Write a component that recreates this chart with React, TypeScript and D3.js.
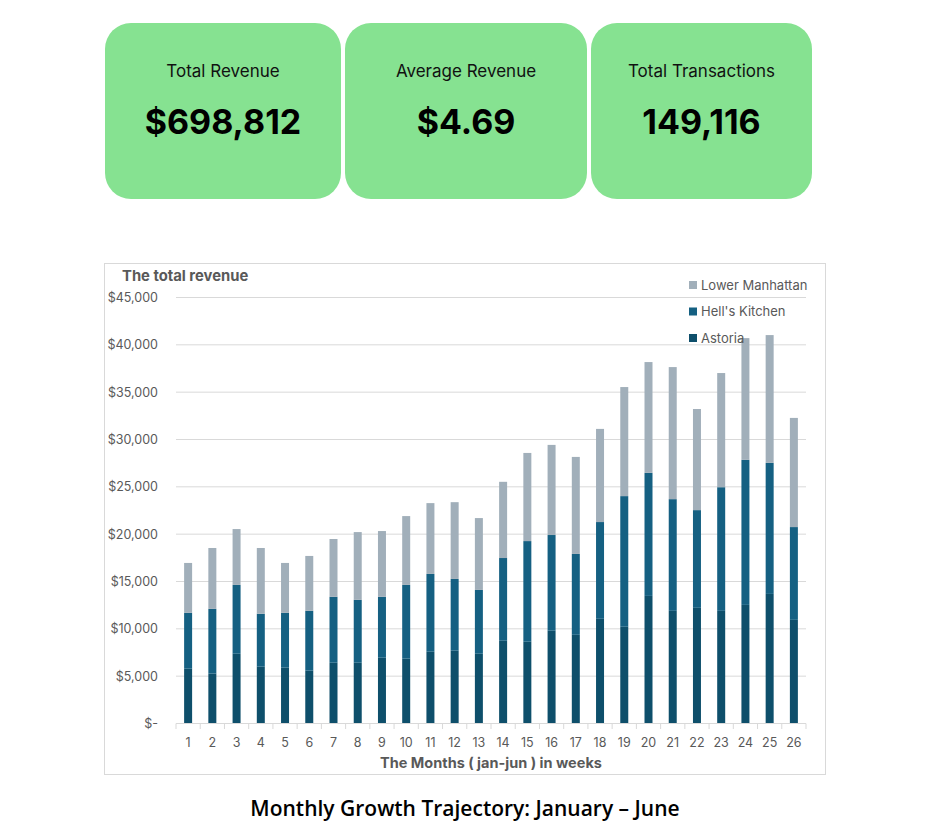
import React, { useRef, useEffect } from 'react'
import * as d3 from 'd3'

// weekly revenue by store, jan-jun
const weeks = d3.range(1, 27).map(String)
const astoria = [5790, 5270, 7370, 6000, 5900, 5580, 6420, 6420, 6950, 6850, 7580, 7690, 7370,
  8740, 8640, 9800, 9370, 11060, 10220, 13480, 11900, 12220, 11900, 12530, 13690, 10950]
const hellsKitchen = [5900, 6840, 7270, 5590, 5790, 6320, 6960, 6640, 6430, 7790, 8220, 7580, 6740,
  8740, 10630, 10110, 8540, 10220, 13800, 13000, 11800, 10320, 13060, 15320, 13840, 9800]
const lowerManhattan = [5270, 6430, 5900, 6950, 5270, 5800, 6110, 7160, 6950, 7270, 7480, 8110, 7590,
  8050, 9310, 9520, 10250, 9840, 11520, 11700, 13950, 10680, 12060, 12860, 13500, 11530]
const seriesNames = ['Astoria', "Hell's Kitchen", 'Lower Manhattan']
const seriesColors = ['#0e4f6b', '#156082', '#a1afba']
const yTicks = [0, 5000, 10000, 15000, 20000, 25000, 30000, 35000, 40000, 45000]

const kpis = [
  { label: 'Total Revenue', value: '$698,812', x0: 105, x1: 341 },
  { label: 'Average Revenue', value: '$4.69', x0: 345, x1: 587 },
  { label: 'Total Transactions', value: '149,116', x0: 591, x1: 812 },
]

const W = 937
const H = 834
const font = 'Inter, "Noto Sans", sans-serif'

export default function App() {
  const svgRef = useRef<SVGSVGElement>(null)

  useEffect(() => {
    const svg = d3.select(svgRef.current)
    svg.selectAll('*').remove()

    // KPI cards
    const cards = svg.append('g')
    kpis.forEach(k => {
      const g = cards.append('g')
      const cx = (k.x0 + k.x1) / 2
      g.append('rect')
        .attr('x', k.x0).attr('y', 23)
        .attr('width', k.x1 - k.x0).attr('height', 176)
        .attr('rx', 26)
        .attr('fill', '#86e291')
      g.append('text')
        .attr('x', cx).attr('y', 77)
        .attr('text-anchor', 'middle')
        .attr('font-family', font)
        .attr('font-size', 17)
        .attr('fill', '#111')
        .text(k.label)
      g.append('text')
        .attr('x', cx).attr('y', 134)
        .attr('text-anchor', 'middle')
        .attr('font-family', font)
        .attr('font-weight', 700)
        .attr('font-size', 34)
        .attr('fill', '#000')
        .text(k.value)
    })

    // chart frame
    svg.append('rect')
      .attr('x', 104.5).attr('y', 263.5)
      .attr('width', 721).attr('height', 511)
      .attr('fill', '#fff')
      .attr('stroke', '#d9d9d9')

    const x = d3.scaleBand()
      .domain(weeks)
      .range([176, 806])
      .paddingInner(0.67)
      .paddingOuter(0.335)

    const y = d3.scaleLinear()
      .domain([0, 45000])
      .range([723.5, 297.5])

    // gridlines
    svg.append('g')
      .selectAll('line')
      .data(yTicks.slice(1))
      .join('line')
      .attr('x1', 176).attr('x2', 806)
      .attr('y1', d => y(d)).attr('y2', d => y(d))
      .attr('stroke', '#d9d9d9')

    // y labels
    svg.append('g')
      .selectAll('text')
      .data(yTicks)
      .join('text')
      .attr('x', 158)
      .attr('y', d => y(d) + 4.5)
      .attr('text-anchor', 'end')
      .attr('font-family', font)
      .attr('font-size', 12.5)
      .attr('fill', '#595959')
      .text(d => d === 0 ? '$-' : d3.format('$,')(d))

    // stacked bars
    const rows = weeks.map((w, i) => ({
      week: w,
      Astoria: astoria[i],
      "Hell's Kitchen": hellsKitchen[i],
      'Lower Manhattan': lowerManhattan[i],
    }))
    const stacked = d3.stack<any>().keys(seriesNames)(rows)
    svg.append('g')
      .selectAll('g')
      .data(stacked)
      .join('g')
      .attr('fill', (_, i) => seriesColors[i])
      .selectAll('rect')
      .data(d => d)
      .join('rect')
      .attr('x', d => x(d.data.week)!)
      .attr('width', x.bandwidth())
      .attr('y', d => y(d[1]))
      .attr('height', d => y(d[0]) - y(d[1]))

    // x axis
    const xAxis = svg.append('g')
    xAxis.append('line')
      .attr('x1', 176).attr('x2', 806)
      .attr('y1', 723.5).attr('y2', 723.5)
      .attr('stroke', '#d9d9d9')
    xAxis.selectAll('line.tick')
      .data(d3.range(weeks.length + 1))
      .join('line')
      .attr('class', 'tick')
      .attr('x1', i => 176 + i * x.step()).attr('x2', i => 176 + i * x.step())
      .attr('y1', 723.5).attr('y2', 729)
      .attr('stroke', '#d9d9d9')
    xAxis.selectAll('text')
      .data(weeks)
      .join('text')
      .attr('x', d => x(d)! + x.bandwidth() / 2)
      .attr('y', 747)
      .attr('text-anchor', 'middle')
      .attr('font-family', font)
      .attr('font-size', 12.5)
      .attr('fill', '#595959')
      .text(d => d)

    svg.append('text')
      .attr('x', 491).attr('y', 768)
      .attr('text-anchor', 'middle')
      .attr('font-family', font)
      .attr('font-weight', 700)
      .attr('font-size', 14.5)
      .attr('fill', '#595959')
      .text('The Months ( jan-jun ) in weeks')

    svg.append('text')
      .attr('x', 122).attr('y', 281)
      .attr('font-family', font)
      .attr('font-weight', 700)
      .attr('font-size', 14.8)
      .attr('fill', '#595959')
      .text('The total revenue')

    // legend
    const legendOrder = [2, 1, 0]
    const lg = svg.append('g')
    legendOrder.forEach((si, i) => {
      const ly = 285 + i * 26.5
      lg.append('rect')
        .attr('x', 689).attr('y', ly - 4)
        .attr('width', 8).attr('height', 8)
        .attr('fill', seriesColors[si])
      lg.append('text')
        .attr('x', 701).attr('y', ly + 4.5)
        .attr('font-family', font)
        .attr('font-size', 13)
        .attr('fill', '#595959')
        .text(seriesNames[si])
    })

    // caption
    svg.append('text')
      .attr('x', 465).attr('y', 816)
      .attr('text-anchor', 'middle')
      .attr('font-family', '"Open Sans", "Noto Sans", sans-serif')
      .attr('font-weight', 600)
      .attr('font-size', 21)
      .attr('fill', '#000')
      .text('Monthly Growth Trajectory: January \u2013 June')
  }, [])

  return (
    <div style={{ position: 'absolute', left: 0, top: 0, background: '#fff' }}>
      <svg ref={svgRef} width={W} height={H} style={{ display: 'block' }} />
    </div>
  )
}
